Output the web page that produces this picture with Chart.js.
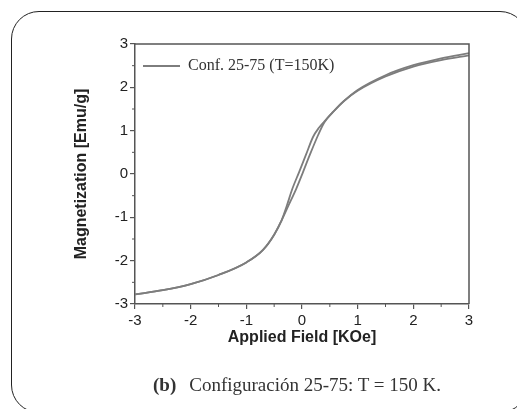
<!DOCTYPE html>
<html><head><meta charset="utf-8">
<script src="https://cdn.jsdelivr.net/npm/chart.js@4"></script>
<style>
html,body{margin:0;padding:0;background:#fff;}
#wrap{position:relative;width:517px;height:409px;overflow:hidden;background:#fff;}
#c{position:absolute;left:0;top:0;}
#frame{position:absolute;left:11px;top:11px;width:517px;height:402px;border:1.5px solid #222;border-radius:28px;box-sizing:border-box;pointer-events:none;}
#cap{position:absolute;left:153px;top:375px;font-family:'Liberation Serif','Times New Roman',serif;font-size:19px;line-height:19px;color:#333;white-space:nowrap;}
#cap span{margin-left:13px;}
</style></head>
<body>
<div id="wrap">
<canvas id="c" width="517" height="409"></canvas>
<div id="frame"></div>
<div id="cap"><b>(b)</b><span>Configuración 25-75: T = 150 K.</span></div>
</div>
<script>
// Upper branch of the loop (field sweeping down), listed by increasing field
const fieldUpper = [-3, -2.5, -2, -1.5, -1, -0.7, -0.5, -0.37, -0.27, -0.17, -0.05, 0.07, 0.2, 0.3, 0.4, 0.55, 0.75, 1, 1.5, 2, 2.5, 3];
const magUpper   = [-2.78, -2.68, -2.54, -2.33, -2.04, -1.75, -1.40, -1.08, -0.72, -0.33, 0.05, 0.44, 0.86, 1.06, 1.21, 1.42, 1.68, 1.94, 2.28, 2.51, 2.67, 2.79];
// Lower branch of the loop (field sweeping up)
const fieldLower = [-3, -2.5, -2, -1.5, -1, -0.7, -0.5, -0.37, -0.24, -0.10, 0.02, 0.14, 0.29, 0.4, 0.55, 0.75, 1, 1.5, 2, 2.5, 3];
const magLower   = [-2.78, -2.68, -2.54, -2.33, -2.04, -1.75, -1.40, -1.08, -0.72, -0.33, 0.05, 0.44, 0.90, 1.19, 1.42, 1.68, 1.92, 2.25, 2.48, 2.63, 2.74];

const seriesLabel = 'Conf. 25-75 (T=150K)';
const xTitle = 'Applied Field [KOe]';
const yTitle = 'Magnetization [Emu/g]';
const minorTicks = [-2.5, -1.5, -0.5, 0.5, 1.5, 2.5];

const upperPts = fieldUpper.map((x, i) => ({x, y: magUpper[i]}));
const lowerPts = fieldLower.map((x, i) => ({x, y: magLower[i]}));

const axisColor = '#555';
const lineColor = '#7d7d7d';
const tickFont = {family: "'Liberation Sans', Arial, sans-serif", size: 15};
const titleFont = {family: "'Liberation Sans', Arial, sans-serif", size: 16, weight: 'bold'};

const framePlugin = {
  id: 'frame',
  afterDraw(chart) {
    const {ctx, chartArea: a, scales: {x, y}} = chart;
    ctx.save();
    ctx.strokeStyle = axisColor;
    ctx.lineWidth = 1.5;
    ctx.beginPath();
    ctx.moveTo(a.left, a.top);
    ctx.lineTo(a.right, a.top);
    ctx.lineTo(a.right, a.bottom);
    ctx.stroke();
    ctx.lineWidth = 1;
    ctx.beginPath();
    minorTicks.forEach(v => {
      const px = x.getPixelForValue(v);
      ctx.moveTo(px, a.bottom); ctx.lineTo(px, a.bottom + 3);
      const py = y.getPixelForValue(v);
      ctx.moveTo(a.left, py); ctx.lineTo(a.left - 3, py);
    });
    ctx.stroke();
    ctx.restore();
  }
};

const lineStyle = {
  showLine: true,
  borderColor: lineColor,
  backgroundColor: lineColor,
  borderWidth: 1.8,
  pointRadius: 0,
  cubicInterpolationMode: 'monotone',
  fill: false
};

new Chart(document.getElementById('c'), {
  type: 'scatter',
  data: {
    datasets: [
      Object.assign({label: seriesLabel, data: upperPts}, lineStyle),
      Object.assign({label: seriesLabel + ' ', data: lowerPts}, lineStyle)
    ]
  },
  options: {
    responsive: false,
    animation: false,
    layout: {padding: {left: 72, right: 48, top: 44, bottom: 62}},
    plugins: {
      tooltip: {enabled: false},
      legend: {
        position: 'chartArea',
        align: 'start',
        title: {display: true, text: '', padding: 0, font: {size: 50, lineHeight: 1}},
        labels: {
          filter: item => item.datasetIndex === 0,
          usePointStyle: true,
          pointStyle: 'line',
          pointStyleWidth: 37,
          padding: 8,
          color: '#333',
          font: {family: "'Liberation Serif', 'Times New Roman', serif", size: 16}
        }
      }
    },
    scales: {
      x: {
        type: 'linear', position: 'bottom', min: -3, max: 3,
        afterFit: s => { s.height = 43; },
        ticks: {stepSize: 1, font: tickFont, color: '#222', padding: 3, maxRotation: 0},
        grid: {drawOnChartArea: false, drawTicks: true, tickLength: 5, color: axisColor, lineWidth: 1.2},
        border: {display: true, color: axisColor, width: 1.5},
        title: {display: true, text: xTitle, font: titleFont, color: '#222', padding: {top: 0, bottom: 0}}
      },
      y: {
        type: 'linear', position: 'left', min: -3, max: 3,
        afterFit: s => { s.width = 63; },
        ticks: {stepSize: 1, font: tickFont, color: '#222', padding: 2},
        grid: {drawOnChartArea: false, drawTicks: true, tickLength: 5, color: axisColor, lineWidth: 1.2},
        border: {display: true, color: axisColor, width: 1.5},
        title: {display: true, text: yTitle, font: titleFont, color: '#222', padding: {top: 0, bottom: 0}}
      }
    }
  },
  plugins: [framePlugin]
});
</script>
</body></html>
